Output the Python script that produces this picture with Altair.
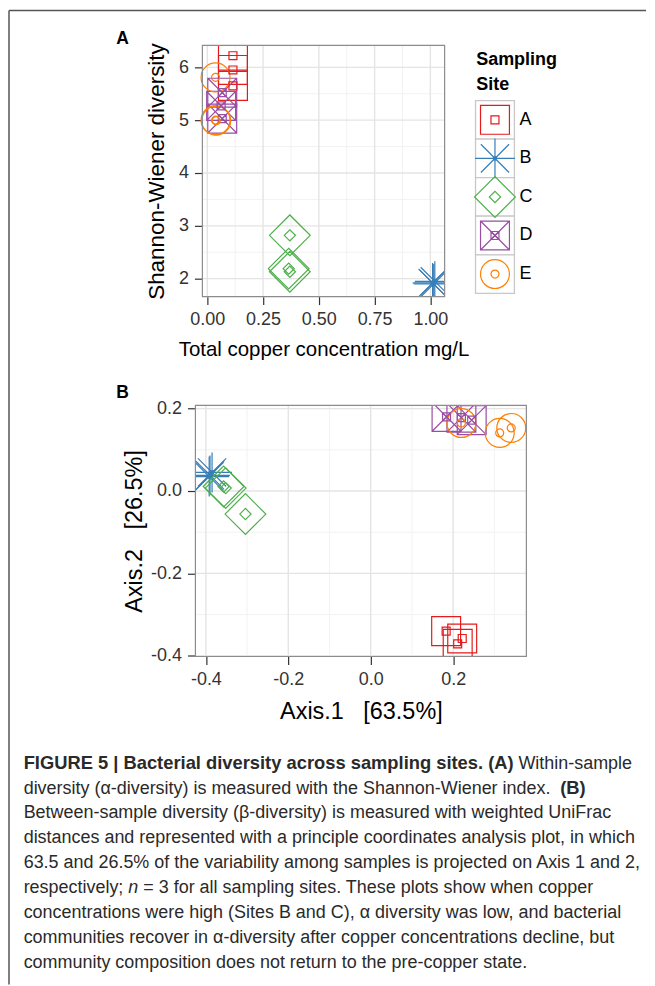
import altair as alt
import pandas as pd

# ---------------- data ----------------
SITES = ["A", "B", "C", "D", "E"]
SITE_COLORS = ["#E41A1C", "#377EB8", "#4DAF4A", "#984EA3", "#FF7F00"]

SAMPLE_SITE = ["A", "A", "A", "B", "B", "B", "C", "C", "C",
               "D", "D", "D", "E", "E", "E"]

# Panel A: total copper (mg/L) vs Shannon-Wiener diversity
COPPER = [0.115, 0.115, 0.115, 1.010, 1.020, 1.015, 0.370, 0.365, 0.370,
          0.067, 0.062, 0.067, 0.037, 0.037, 0.040]
SHANNON = [6.22, 5.95, 5.65, 1.92, 1.95, 1.90, 2.82, 2.19, 2.13,
           5.52, 5.27, 5.03, 5.81, 5.00, 4.99]

# Panel B: PCoA axes
AXIS1 = [0.183, 0.222, 0.211, -0.390, -0.385, -0.392, -0.352, -0.357, -0.304,
         0.184, 0.220, 0.245, 0.220, 0.313, 0.341]
AXIS2 = [-0.340, -0.358, -0.371, 0.038, 0.045, 0.035, 0.007, 0.011, -0.056,
         0.180, 0.178, 0.172, 0.165, 0.141, 0.153]

A_XTICKS = [0.0, 0.25, 0.5, 0.75, 1.0]
A_XMINOR = [0.125, 0.375, 0.625, 0.875]
A_YTICKS = [2, 3, 4, 5, 6]
A_YMINOR = [2.5, 3.5, 4.5, 5.5]
A_XDOM = [-0.022, 1.064]
A_YDOM = [1.66, 6.415]

B_TICKS = [-0.4, -0.2, 0.0, 0.2]
B_XMINOR = [-0.3, -0.1, 0.1, 0.3]
B_YMINOR = [-0.3, -0.1, 0.1]
B_XDOM = [-0.4254, 0.3777]
B_YDOM = [-0.4017, 0.208]

CAPTION_LINES = [
    [("FIGURE 5 | Bacterial diversity across sampling sites. (A)", "bold", "normal"),
     ("Within-sample", "normal", "normal")],
    [("diversity (\u03b1-diversity) is measured with the Shannon-Wiener index.", "normal", "normal"),
     ("(B)", "bold", "normal")],
    [("Between-sample diversity (\u03b2-diversity) is measured with weighted UniFrac", "normal", "normal")],
    [("distances and represented with a principle coordinates analysis plot, in which", "normal", "normal")],
    [("63.5 and 26.5% of the variability among samples is projected on Axis 1 and 2,", "normal", "normal")],
    [("respectively;", "normal", "normal"), ("n", "normal", "italic"),
     ("= 3 for all sampling sites. These plots show when copper", "normal", "normal")],
    [("concentrations were high (Sites B and C), \u03b1 diversity was low, and bacterial", "normal", "normal")],
    [("communities recover in \u03b1-diversity after copper concentrations decline, but", "normal", "normal")],
    [("community composition does not return to the pre-copper state.", "normal", "normal")],
]
# x offsets (relative to caption view) of segments after the first on a line
SEG_X = {(0, 1): 324.0, (1, 1): 366.0, (5, 1): -67.3, (5, 2): -52.3}

# ---------------- style ----------------
FONT = "Liberation Sans"
CAP_FONT = "Liberation Sans"
SQ = "M-1,-1L1,-1L1,1L-1,1Z"
AST_BIG = "M-1.38,0L1.38,0M0,-1.38L0,1.38M-0.975,-0.975L0.975,0.975M-0.975,0.975L0.975,-0.975"
AST_SMALL = "M-0.6,0L0.6,0M0,-0.6L0,0.6M-0.42,-0.42L0.42,0.42M-0.42,0.42L0.42,-0.42"
DIA = "M-1.41,0L0,-1.41L1.41,0L0,1.41Z"
SQX = "M-1,-1L1,-1L1,1L-1,1ZM-1,-1L1,1M-1,1L1,-1"
BIG_SHAPES = [SQ, AST_BIG, DIA, SQX, "circle"]
SMALL_SHAPES = [SQ, AST_SMALL, DIA, SQX, "circle"]
BIG_SIZE = 841
SMALL_SIZE = 64
SW = 1.2
MAJOR = "#e4e4e4"
MINOR = "#f2f2f2"
MINUS_EXPR = "(datum.value < 0 ? '-' : '') + format(abs(datum.value), '.1f')"


def color_enc():
    return alt.Color("site:N", scale=alt.Scale(domain=SITES, range=SITE_COLORS), legend=None)


def shape_enc(shapes):
    return alt.Shape("site:N", scale=alt.Scale(domain=SITES, range=shapes), legend=None)


def points(df, xenc, yenc, shapes, size):
    return alt.Chart(df).mark_point(filled=False, opacity=1, size=size, strokeWidth=SW, clip=True).encode(
        x=xenc, y=yenc, color=color_enc(), shape=shape_enc(shapes))


def vgrid(vals, scale, axis, y0, y1, color, width):
    return alt.Chart(pd.DataFrame({"v": vals})).mark_rule(color=color, strokeWidth=width).encode(
        x=alt.X("v:Q", scale=scale, axis=axis), y=alt.value(y0), y2=alt.value(y1))


def hgrid(vals, scale, axis, x0, x1, color, width):
    return alt.Chart(pd.DataFrame({"v": vals})).mark_rule(color=color, strokeWidth=width).encode(
        y=alt.Y("v:Q", scale=scale, axis=axis), x=alt.value(x0), x2=alt.value(x1))


def border(x0, x1, h):
    return alt.Chart(pd.DataFrame({"b": [0]})).mark_rect(
        fillOpacity=0, stroke="#8c8c8c", strokeWidth=1.2).encode(
        x=alt.value(x0), x2=alt.value(x1), y=alt.value(0), y2=alt.value(h))


def label(text, x, y, size, weight="normal", font=FONT, style="normal", color="#000000",
          align="left", baseline="alphabetic"):
    return alt.Chart(pd.DataFrame({"t": [text]})).mark_text(
        align=align, baseline=baseline, fontSize=size, fontWeight=weight, font=font,
        fontStyle=style, color=color).encode(x=alt.value(x), y=alt.value(y), text="t:N")


# ---------------- panel A ----------------
AW, AH, AX0 = 250, 252, 7
a_df = pd.DataFrame({"site": SAMPLE_SITE, "copper": COPPER, "shannon": SHANNON})
a_xs = alt.Scale(domain=A_XDOM, range=[AX0, AW], nice=False, zero=False)
a_ys = alt.Scale(domain=A_YDOM, nice=False, zero=False)
a_xaxis = alt.Axis(values=A_XTICKS, format=".2f", title="Total copper concentration mg/L",
                   labelPadding=6, titlePadding=11.5, titleFontSize=20.5)
a_yaxis = alt.Axis(values=A_YTICKS, format="d", title="Shannon-Wiener diversity",
                   offset=-AX0, labelPadding=6, titlePadding=10.2, titleFontSize=22.5)
a_x = alt.X("copper:Q", scale=a_xs, axis=a_xaxis)
a_y = alt.Y("shannon:Q", scale=a_ys, axis=a_yaxis)

a_core = alt.layer(
    vgrid(A_XMINOR, a_xs, a_xaxis, 0, AH, MINOR, 1),
    hgrid(A_YMINOR, a_ys, a_yaxis, AX0, AW, MINOR, 1),
    vgrid(A_XTICKS, a_xs, a_xaxis, 0, AH, MAJOR, 1.4),
    hgrid(A_YTICKS, a_ys, a_yaxis, AX0, AW, MAJOR, 1.4),
    points(a_df, a_x, a_y, BIG_SHAPES, BIG_SIZE),
    points(a_df, a_x, a_y, SMALL_SHAPES, SMALL_SIZE),
    border(AX0, AW, AH),
).resolve_scale(shape="independent")

leg_df = pd.DataFrame({"site": SITES})
ly = alt.Y("site:N", scale=alt.Scale(type="band", domain=SITES, range=[55.3, 248.7],
                                     paddingInner=0, paddingOuter=0), axis=None)
legend = alt.layer(
    alt.Chart(leg_df).mark_rect(fill="white", stroke="#c8c8c8", strokeWidth=1.3).encode(
        y=ly, x=alt.value(281), x2=alt.value(320)),
    alt.Chart(leg_df).mark_point(filled=False, opacity=1, size=BIG_SIZE, strokeWidth=SW).encode(
        y=ly, x=alt.value(300.5), color=color_enc(), shape=shape_enc(BIG_SHAPES)),
    alt.Chart(leg_df).mark_point(filled=False, opacity=1, size=SMALL_SIZE, strokeWidth=SW).encode(
        y=ly, x=alt.value(300.5), color=color_enc(), shape=shape_enc(SMALL_SHAPES)),
    alt.Chart(leg_df).mark_text(align="left", baseline="middle", fontSize=18, font=FONT,
                                color="#000000").encode(y=ly, x=alt.value(325), text="site:N"),
    label("Sampling", 281.7, 20.0, 18, "bold"),
    label("Site", 281.7, 44.5, 18, "bold"),
).resolve_scale(shape="independent")

panel_a = alt.layer(a_core, legend, label("A", -79.3, -1.3, 17.5, "bold")).resolve_scale(
    y="independent", shape="independent").properties(width=AW, height=AH)

# ---------------- panel B ----------------
BW, BH = 332, 252
b_df = pd.DataFrame({"site": SAMPLE_SITE, "axis1": AXIS1, "axis2": AXIS2})
b_xs = alt.Scale(domain=B_XDOM, nice=False, zero=False)
b_ys = alt.Scale(domain=B_YDOM, nice=False, zero=False)
b_xaxis = alt.Axis(values=B_TICKS, labelExpr=MINUS_EXPR,
                   title="Axis.1\u00a0\u00a0\u00a0[63.5%]",
                   labelPadding=6, titlePadding=11, titleFontSize=23.5)
b_yaxis = alt.Axis(values=B_TICKS, labelExpr=MINUS_EXPR,
                   title="Axis.2\u00a0\u00a0\u00a0[26.5%]",
                   labelPadding=6, titlePadding=3.7, titleFontSize=23.5)
b_x = alt.X("axis1:Q", scale=b_xs, axis=b_xaxis)
b_y = alt.Y("axis2:Q", scale=b_ys, axis=b_yaxis)

panel_b = alt.layer(
    vgrid(B_XMINOR, b_xs, b_xaxis, 0, BH, MINOR, 1),
    hgrid(B_YMINOR, b_ys, b_yaxis, 0, BW, MINOR, 1),
    vgrid(B_TICKS, b_xs, b_xaxis, 0, BH, MAJOR, 1.4),
    hgrid(B_TICKS, b_ys, b_yaxis, 0, BW, MAJOR, 1.4),
    points(b_df, b_x, b_y, BIG_SHAPES, BIG_SIZE),
    points(b_df, b_x, b_y, SMALL_SHAPES, SMALL_SIZE),
    border(0, BW, BH),
    label("B", -79.3, -7.3, 17.5, "bold"),
).resolve_scale(shape="independent").properties(width=BW, height=BH)

# ---------------- caption + frame ----------------
CW, CH = 452, 220
CAP_X = -172.3
CAP_Y0 = 3.5
CAP_DY = 25.0
cap_layers = [
    alt.Chart(pd.DataFrame({"b": [0]})).mark_rule(color="#555555", strokeWidth=1.5).encode(
        x=alt.value(-187), y=alt.value(-757), y2=alt.value(220)),
    alt.Chart(pd.DataFrame({"b": [0]})).mark_rule(color="#555555", strokeWidth=1.5).encode(
        x=alt.value(-187), x2=alt.value(452), y=alt.value(-757)),
]
for li, segs in enumerate(CAPTION_LINES):
    for si, (txt, weight, style) in enumerate(segs):
        x = CAP_X if si == 0 else SEG_X[(li, si)]
        size = 18.4 if weight == "bold" else 18.0
        cap_layers.append(label(txt, x, CAP_Y0 + li * CAP_DY, size, weight, CAP_FONT, style,
                                "#2a2a2a"))
caption = alt.layer(*cap_layers).properties(width=CW, height=CH)

chart = alt.vconcat(panel_a, panel_b, caption, spacing=109, bounds="flush").properties(
    padding=0, background="white"
).configure_view(stroke=None).configure_axis(
    domain=False, grid=False, ticks=True, tickColor="#333333", tickWidth=1.2, tickSize=8,
    labelFont=FONT, labelFontSize=18, labelColor="#333333",
    titleFont=FONT, titleFontWeight="normal", titleColor="#000000",
)

chart.save("out.html", embed_options={"renderer": "svg", "actions": False})
